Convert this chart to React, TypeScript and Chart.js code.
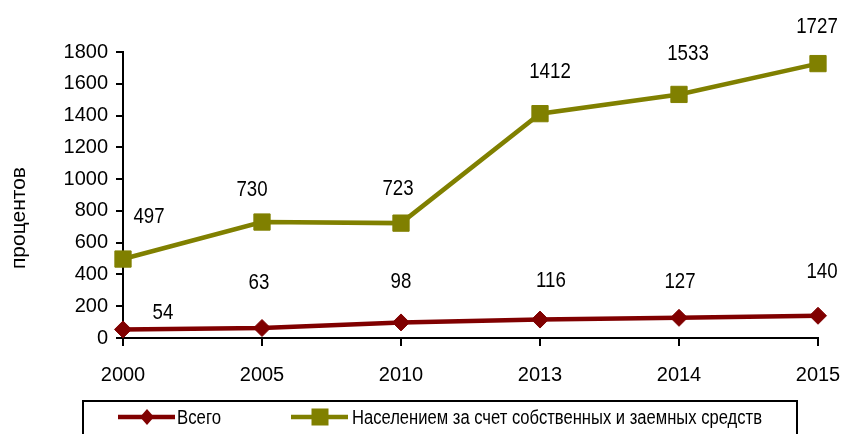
import React, { useEffect, useRef } from "react";
import { Chart, registerables } from "chart.js";

Chart.register(...registerables);

const categories = ["2000", "2005", "2010", "2013", "2014", "2015"];
const totalValues = [54, 63, 98, 116, 127, 140];
const populationValues = [497, 730, 723, 1412, 1533, 1727];
const seriesNames = ["Всего", "Населением за счет собственных и заемных средств"];
const yTitle = "процентов";
const yMin = 0;
const yMax = 1800;
const yStep = 200;

// label placement tweaks (style only), [dx, dy] in px relative to the point
const totalLabelOffsets = [[40, -16], [-3, -45], [0, -40], [11, -39], [1, -36], [4, -44]];
const popLabelOffsets = [[26, -42], [-10, -32], [-3, -34], [10, -42], [9, -40], [-1, -37]];

const RED = "#800000";
const OLIVE = "#808000";

const extrasPlugin = {
  id: "extras",
  afterDatasetsDraw(chart: any) {
    const ctx = chart.ctx;
    const offsets = [totalLabelOffsets, popLabelOffsets];
    ctx.save();
    ctx.fillStyle = "#000";
    ctx.font = '22px "Liberation Sans", Arial';
    ctx.textAlign = "center";
    ctx.textBaseline = "middle";
    chart.data.datasets.forEach((ds: any, di: number) => {
      const meta = chart.getDatasetMeta(di);
      meta.data.forEach((pt: any, i: number) => {
        const [dx, dy] = offsets[di][i];
        ctx.save();
        ctx.translate(pt.x + dx, pt.y + dy);
        ctx.scale(0.85, 1);
        ctx.fillText(String(ds.data[i]), 0, 0);
        ctx.restore();
      });
    });
    ctx.restore();

    // Y axis title
    const ca = chart.chartArea;
    ctx.save();
    ctx.translate(19, ca.bottom - 120);
    ctx.rotate(-Math.PI / 2);
    ctx.font = '21px "Liberation Sans", Arial';
    ctx.textAlign = "center";
    ctx.textBaseline = "middle";
    ctx.fillStyle = "#000";
    ctx.fillText(yTitle, 0, 0);
    ctx.restore();

    // Legend box
    ctx.save();
    ctx.strokeStyle = "#000";
    ctx.lineWidth = 2;
    ctx.strokeRect(83, 401, 714, 60);
    const cy = 417;
    ctx.strokeStyle = RED;
    ctx.lineWidth = 4.5;
    ctx.beginPath();
    ctx.moveTo(118, cy);
    ctx.lineTo(175, cy);
    ctx.stroke();
    ctx.fillStyle = RED;
    ctx.beginPath();
    ctx.moveTo(147 - 7, cy);
    ctx.lineTo(147, cy - 8);
    ctx.lineTo(147 + 7, cy);
    ctx.lineTo(147, cy + 8);
    ctx.closePath();
    ctx.fill();
    ctx.strokeStyle = OLIVE;
    ctx.beginPath();
    ctx.moveTo(291, cy);
    ctx.lineTo(348, cy);
    ctx.stroke();
    ctx.fillStyle = OLIVE;
    ctx.fillRect(320 - 8.5, cy - 8.5, 17, 17);
    ctx.fillStyle = "#000";
    ctx.font = '20px "Liberation Sans", Arial';
    ctx.textAlign = "left";
    ctx.textBaseline = "middle";
    const drawScaled = (t: string, x: number, w: number) => {
      const m = ctx.measureText(t).width;
      ctx.save();
      ctx.translate(x, cy + 1);
      ctx.scale(w / m, 1);
      ctx.fillText(t, 0, 0);
      ctx.restore();
    };
    drawScaled(chart.data.datasets[0].label, 177, 44);
    drawScaled(chart.data.datasets[1].label, 352, 410);
    ctx.restore();
  },
};

export default function App() {
  const ref = useRef<HTMLCanvasElement>(null);
  useEffect(() => {
    document.body.style.margin = "0";
    const chart = new Chart(ref.current!, {
      type: "line",
      data: {
        labels: categories,
        datasets: [
          {
            label: seriesNames[0],
            data: totalValues,
            borderColor: RED,
            backgroundColor: RED,
            borderWidth: 4.5,
            pointStyle: "rectRot",
            pointRadius: 8.5,
            pointBorderWidth: 1,
            pointBackgroundColor: RED,
            pointBorderColor: RED,
            tension: 0,
          },
          {
            label: seriesNames[1],
            data: populationValues,
            borderColor: OLIVE,
            backgroundColor: OLIVE,
            borderWidth: 4.5,
            pointStyle: "rect",
            pointRadius: 11.5,
            pointBorderWidth: 1,
            pointBackgroundColor: OLIVE,
            pointBorderColor: OLIVE,
            tension: 0,
          },
        ],
      },
      options: {
        animation: false,
        responsive: false,
        maintainAspectRatio: false,
        layout: { padding: { left: 0, right: 25, top: 52, bottom: 0 } },
        plugins: {
          legend: { display: false },
          tooltip: { enabled: false },
        },
        scales: {
          x: {
            offset: false,
            grid: {
              display: true,
              drawOnChartArea: false,
              drawTicks: true,
              tickLength: 8,
              color: "#000",
              lineWidth: 2,
            },
            border: { display: true, color: "#000", width: 2 },
            ticks: {
              color: "#000",
              font: { family: '"Liberation Sans", Arial', size: 20 },
              padding: 17,
              maxRotation: 0,
            },
            afterFit(scale: any) {
              scale.height = 96;
              scale.paddingRight = 0;
              scale.paddingLeft = 0;
            },
          },
          y: {
            min: yMin,
            max: yMax,
            grid: {
              display: true,
              drawOnChartArea: false,
              drawTicks: true,
              tickLength: 7,
              color: "#000",
              lineWidth: 2,
            },
            border: { display: true, color: "#000", width: 2 },
            ticks: {
              stepSize: yStep,
              color: "#000",
              font: { family: '"Liberation Sans", Arial', size: 20 },
              padding: 8,
              callback: (v: any) => String(v),
            },
            afterFit(scale: any) {
              scale.width = 123;
            },
          },
        },
      },
      plugins: [extrasPlugin],
    });
    return () => chart.destroy();
  }, []);
  return <canvas ref={ref} width={843} height={434} style={{ display: "block" }} />;
}
